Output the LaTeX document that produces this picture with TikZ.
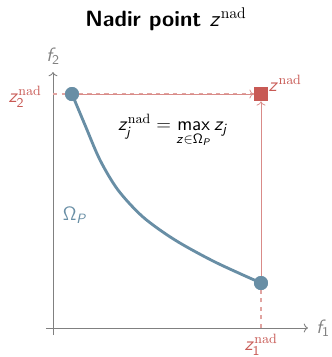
\RequirePackage{fix-cm}
\documentclass[tikz,border=0pt]{standalone}
\usepackage{amsmath}
\usetikzlibrary{arrows.meta, calc}
\DeclareMathAlphabet{\mathsfit}{OT1}{cmss}{m}{sl}
\definecolor{paretoblue}{RGB}{104,142,165}
\definecolor{nadred}{RGB}{200,90,85}
\definecolor{axisgray}{RGB}{128,128,128}
\newcommand{\zv}{\mathsfit{z}}

\begin{document}
\begin{tikzpicture}[x=0.7pt, y=-0.7pt,
    every node/.style={font=\sffamily\fontsize{13.5}{16}\selectfont},
    axisline/.style={draw=axisgray, line width=0.6pt, -{To[length=3pt]}},
    front/.style={draw=paretoblue, line width=2pt, line cap=round},
    dot/.style={circle, fill=paretoblue, inner sep=0pt, minimum size=9.8pt},
    nadir/.style={rectangle, fill=nadred, inner sep=0pt, minimum size=9.8pt},
    proj/.style={draw=nadred!55, line width=1.3pt, dashed},
    link/.style={draw=nadred!70, line width=0.5pt, -{To[length=3pt]}},
    lab/.style={text=nadred}
]
\useasboundingbox (0,0) rectangle (332,357);

% title
\node[font=\sffamily\fontsize{15.5}{18}\selectfont] (title) at (166,19) {\bfseries Nadir point $\zv^{\mathrm{nad}}$};

% axes
\coordinate (xs) at (46,328);
\coordinate (xe) at (308,328);
\coordinate (ys) at (53,335);
\coordinate (ye) at (53,72);
\draw[axisline] (xs) -- (xe);
\draw[axisline] (ys) -- (ye);
\node[text=axisgray] (f1) at (323,328) {$\mathsfit{f}_{\mathsf{1}}$};
\node[text=axisgray] (f2) at (53,56) {$\mathsfit{f}_{\mathsf{2}}$};

% points
\node[dot] (ztop) at (72,94) {};
\node[dot] (zbot) at (261,283) {};
\node[nadir] (znad) at (261,94) {};
\coordinate (y2) at (53,94);
\coordinate (x1) at (261,328);

% projections
\draw[proj] (y2) -- (znad.west);
\draw[proj] (x1) -- (zbot.center);
\draw[link] (ztop) -- (znad.west);
\draw[link] (zbot) -- (znad.south);

% pareto front
\draw[front] plot[smooth] coordinates {(72,94) (85,125) (100,160) (118,190) (143,217) (175,240) (215,262) (261,283)};
\node[dot] at (ztop) {};
\node[dot] at (zbot) {};

% labels
\node[lab] (l2) at (25,97) {$\zv_{\mathsf{2}}^{\mathrm{nad}}$};
\node[lab] (l1) at (261,345) {$\zv_{\mathsf{1}}^{\mathrm{nad}}$};
\node[lab, anchor=south west, inner sep=1pt] (ln) at (267,93) {$\zv^{\mathrm{nad}}$};
\node (eq) at (173,131) {$\zv_{\mathsfit{j}}^{\mathrm{nad}} = \operatorname*{\mathsf{max}}\limits_{\zv\in\mathsf{\Omega}_{\mathsfit{P}}} \zv_{\mathsfit{j}}$};
\node[text=paretoblue] (omega) at (75,215) {$\mathsf{\Omega}_{\mathsfit{P}}$};
\end{tikzpicture}
\end{document}
